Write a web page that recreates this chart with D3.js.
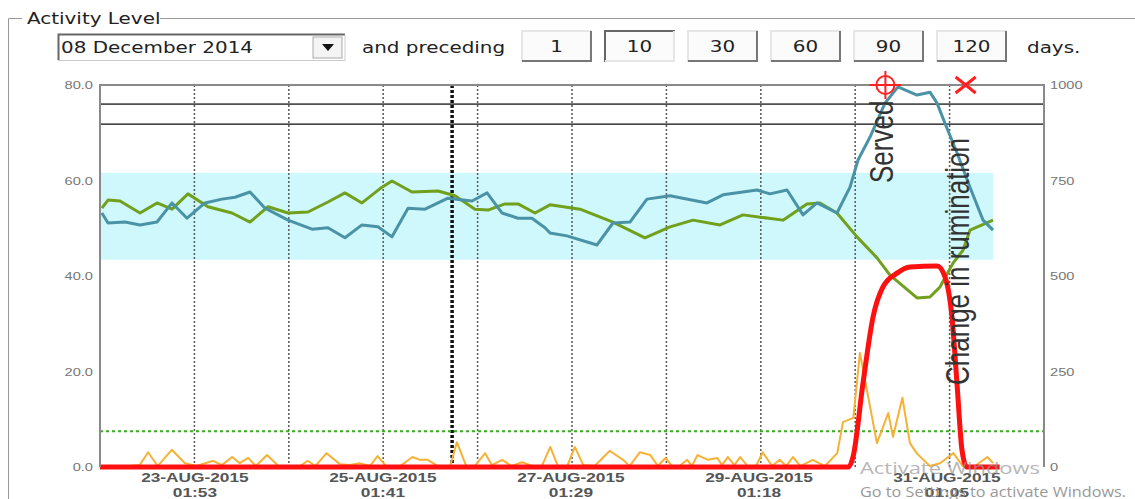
<!DOCTYPE html>
<html>
<meta charset="utf-8">
<script src="https://d3js.org/d3.v7.min.js"></script>
<style>
body{ margin:0; background:white; }
svg{ display:block; font-family:"DejaVu Sans", Verdana, sans-serif; }
.tickL text, .tickR text{ fill:#777; font-size:11px; }
.xlab{ fill:#555; font-size:13px; font-weight:bold; }
.ctl{ fill:#222; font-size:15px; }
.note{ fill:#333; font-family:"Liberation Sans", Arial, sans-serif; font-size:26px; }
</style>
<body>
<div id="chart"></div>
<script>
// --- data ---
var startTime = new Date(2015, 7, 22, 1, 53);
var spanDays = 10;

var presetDays = [1, 10, 30, 60, 90, 120];
var selectedDays = 10;
var dateText = "08 December 2014";

var leftTicks = [0, 20, 40, 60, 80];
var rightTicks = [0, 250, 500, 750, 1000];
var xTickDates = [new Date(2015,7,23,1,53), new Date(2015,7,25,1,41), new Date(2015,7,27,1,29), new Date(2015,7,29,1,18), new Date(2015,7,31,1,5)];
var xTickDays = ["23-AUG-2015", "25-AUG-2015", "27-AUG-2015", "29-AUG-2015", "31-AUG-2015"];
var xTickTimes = ["01:53", "01:41", "01:29", "01:18", "01:05"];

var dayLines = [1, 2, 3, 4, 5, 6, 7, 8, 9];   // days after start
var eventLine = 3.73;
var normalBand = [43.4, 61.6];
var limitBox = [71.8, 76.0];
var alarmLevel = 7.5;

// day offset / value
var blueDay = [0.02,0.085,0.265,0.424,0.604,0.763,0.922,1.112,1.292,1.43,1.589,1.748,1.992,2.246,2.415,2.595,2.775,2.945,3.093,3.263,3.443,3.686,3.941,4.1,4.258,4.428,4.576,4.714,4.767,4.947,5.265,5.434,5.614,5.794,6.038,6.43,6.6,6.96,7.097,7.278,7.447,7.595,7.807,7.945,8.03,8.157,8.316,8.453,8.655,8.792,8.867,8.951,9.078,9.216,9.354,9.46];
var blueVal = [53.2,51.1,51.3,50.7,51.3,55.3,52.1,55.3,56.1,56.5,57.6,54.2,51.7,49.8,50.1,48.0,50.7,50.3,48.2,54.2,54.0,56.3,55.7,57.4,53.2,52.1,52.1,50.1,49.0,48.4,46.5,51.1,51.3,56.1,56.8,55.3,57.0,58.0,57.2,58.0,52.8,55.3,53.2,58.6,64.3,69.1,76.2,79.6,77.9,78.5,76.2,72.0,65.8,58.6,51.7,49.6];

var greenDay = [0.02,0.085,0.212,0.424,0.604,0.763,0.932,1.144,1.398,1.589,1.78,1.992,2.203,2.415,2.595,2.775,2.987,3.093,3.305,3.581,3.761,3.972,4.11,4.29,4.428,4.608,4.767,5.085,5.434,5.773,6.038,6.282,6.568,6.811,7.235,7.489,7.627,7.807,8.019,8.231,8.369,8.655,8.792,8.898,9.036,9.142,9.216,9.46];
var greenVal = [54.2,55.9,55.7,53.2,55.3,54.0,57.2,54.5,53.2,51.3,54.5,53.2,53.4,55.5,57.4,55.3,58.6,59.9,57.6,57.8,56.8,54.0,53.8,55.1,55.1,53.2,54.9,54.0,51.3,48.0,50.3,51.7,50.7,52.8,51.7,55.1,55.3,53.2,48.2,43.8,40.2,35.4,35.6,37.7,42.7,45.4,49.6,51.7];

var redDay = [0, 7.93, 7.977, 8.083, 8.189, 8.294, 8.443, 8.581, 8.867, 8.951, 9.025, 9.078, 9.131, 9.184, 9.53];
var redVal = [0, 0, 2.1, 17.6, 31.4, 37.7, 40.6, 41.9, 42.1, 39.8, 31.4, 17.6, 3.6, 0, 0];

var orangeDay = [0.02,0.32,0.42,0.51,0.61,0.76,0.9,1.02,1.2,1.29,1.4,1.48,1.57,1.65,1.77,1.89,2.12,2.2,2.28,2.4,2.54,2.65,2.75,2.86,2.94,3.03,3.18,3.31,3.39,3.47,3.58,3.71,3.78,3.88,3.97,4.08,4.15,4.26,4.36,4.47,4.58,4.68,4.77,4.85,4.95,5.03,5.12,5.24,5.4,5.54,5.61,5.72,5.83,5.91,5.99,6.06,6.14,6.22,6.27,6.33,6.44,6.54,6.59,6.65,6.72,6.78,6.86,6.95,7.02,7.12,7.2,7.27,7.34,7.42,7.55,7.68,7.81,7.87,7.98,8.05,8.13,8.23,8.35,8.4,8.5,8.58,8.65,8.79,8.9,9.04,9.14,9.27,9.4,9.46];
var orangeVal = [0.2,0.2,0.4,3.1,0.2,3.6,0.8,0.2,1.3,0.4,2.1,0.8,1.9,0.2,2.5,0.2,0.2,1.3,0.2,2.9,0.6,0.4,0.8,0.2,2.3,0.2,0.2,2.1,1.5,1.5,0.2,0.2,5.2,0.2,0.2,2.9,0.4,1.5,0.2,1.0,0.2,0.2,4.2,0.2,0.2,4.2,0.4,0.2,3.4,1.5,0.2,3.1,2.5,0.2,1.9,0.2,0.2,1.5,0.2,2.5,1.5,1.9,0.4,2.1,0.4,2.1,0.2,0.2,3.1,0.2,1.5,0.2,2.1,0.2,1.5,0.2,2.9,9.4,10.3,23.9,15.5,5.0,11.3,6.3,14.5,5.0,2.9,0.2,0.8,2.9,0.2,0.2,2.1,0.8];

var events = [{day: 8.32, label: "Served", kind: "cross"}, {day: 9.17, label: "Change in rumination", kind: "x"}];

// --- layout ---
var W = 1135, H = 499;
var plot = {left: 100, right: 1044, top: 85, bottom: 467};
var stretch = 1.33;   // the screenshot is wider than tall text would be
var dayMs = 864e5;
function at(d){ return new Date(+startTime + d * dayMs); }

var svg = d3.select("#chart").append("svg").attr("width", W).attr("height", H);

var x = d3.scaleTime().domain([startTime, at(spanDays)]).range([plot.left, plot.right]);
var yL = d3.scaleLinear().domain([0, 80]).range([plot.bottom, plot.top]);
var yR = d3.scaleLinear().domain([0, 1000]).range([plot.bottom, plot.top]);

function wideText(sel, px, py, str, cls){
  return sel.append("text").attr("class", cls)
    .attr("transform", "translate(" + px + "," + py + ") scale(" + stretch + ",1)").text(str);
}

// group box + controls
svg.append("path").attr("d", "M8.5,499V18.5H22M160,18.5H1135").attr("fill","none").attr("stroke","#999").attr("stroke-width",1);
wideText(svg, 27, 24, "Activity Level", "ctl");

var dd = svg.append("g");
dd.append("rect").attr("x",58).attr("y",34).attr("width",287).attr("height",26).attr("fill","white");
dd.append("path").attr("d","M58.5,60V34.5H345").attr("fill","none").attr("stroke","#666").attr("stroke-width",2);
dd.append("path").attr("d","M345,34.5V60.5H58").attr("fill","none").attr("stroke","#ccc").attr("stroke-width",1);
dd.append("rect").attr("x",313).attr("y",37).attr("width",29).attr("height",21).attr("fill","#f4f4f4").attr("stroke","#aaa");
dd.append("path").attr("d","M322,44L334,44L328,51Z").attr("fill","#111");
wideText(dd, 61, 53, dateText, "ctl");
wideText(svg, 362, 53, "and preceding", "ctl");

var bx = d3.scaleBand().domain(presetDays).range([521, 1007]).paddingInner(0.145);
var btn = svg.selectAll(".btn").data(presetDays).enter().append("g").attr("class","btn")
  .attr("transform", function(d){ return "translate(" + bx(d) + ",30)"; });
btn.append("rect").attr("width", bx.bandwidth()).attr("height", 32).attr("fill", "#fbfbfb");
btn.append("path").attr("fill","none").attr("stroke-width",2)
  .attr("stroke", function(d){ return d == selectedDays ? "#666" : "#e6e6e6"; })
  .attr("d", "M1,32V1H" + bx.bandwidth());
btn.append("path").attr("fill","none").attr("stroke-width",2)
  .attr("stroke", function(d){ return d == selectedDays ? "#e6e6e6" : "#777"; })
  .attr("d", "M" + (bx.bandwidth()-1) + ",1V31H1");
btn.append("text").attr("class","ctl").attr("text-anchor","middle")
  .attr("transform", "translate(" + (bx.bandwidth()/2) + ",22) scale(" + stretch + ",1)")
  .text(function(d){ return d; });
wideText(svg, 1027, 53, "days.", "ctl");

// plot background pieces
var lastDay = blueDay[blueDay.length - 1];
svg.append("rect").attr("x", plot.left).attr("width", x(at(lastDay)) - plot.left)
  .attr("y", yL(normalBand[1])).attr("height", yL(normalBand[0]) - yL(normalBand[1]))
  .attr("fill", "#cff8fc");

svg.selectAll(".dayline").data(dayLines).enter().append("line").attr("class","dayline")
  .attr("x1", function(d){ return x(at(d)); }).attr("x2", function(d){ return x(at(d)); })
  .attr("y1", plot.top).attr("y2", plot.bottom)
  .attr("stroke", "#5a5a5a").attr("stroke-width", 1.5).attr("stroke-dasharray", "2,2");
svg.append("line").attr("x1", x(at(eventLine))).attr("x2", x(at(eventLine)))
  .attr("y1", plot.top).attr("y2", plot.bottom)
  .attr("stroke", "#111").attr("stroke-width", 3.5).attr("stroke-dasharray", "3,2");

svg.append("rect").attr("x", plot.left).attr("width", plot.right - plot.left)
  .attr("y", yL(limitBox[1])).attr("height", yL(limitBox[0]) - yL(limitBox[1]))
  .attr("fill","none").attr("stroke","#333").attr("stroke-width",1.5);

svg.append("line").attr("x1", plot.left).attr("x2", plot.right)
  .attr("y1", yL(alarmLevel)).attr("y2", yL(alarmLevel))
  .attr("stroke", "#3aaa22").attr("stroke-width", 2).attr("stroke-dasharray", "3,3");

// series
function drawLine(days, vals, color, width, curve){
  var pts = days.map(function(d, i){ return [at(d), vals[i]]; });
  var line = d3.line().x(function(p){ return x(p[0]); }).y(function(p){ return yL(p[1]); }).curve(curve || d3.curveLinear);
  svg.append("path").datum(pts).attr("d", line).attr("fill","none")
    .attr("stroke", color).attr("stroke-width", width).attr("stroke-linejoin","round");
}
drawLine(orangeDay, orangeVal, "#f5b236", 2);
drawLine(greenDay, greenVal, "#70a01c", 3);
drawLine(blueDay, blueVal, "#4a93a6", 3);
drawLine(redDay, redVal, "#ff1010", 5, d3.curveMonotoneX);

// frame
svg.append("path").attr("d", "M" + plot.left + "," + plot.bottom + "V" + plot.top + "H" + plot.right + "V" + plot.bottom)
  .attr("fill","none").attr("stroke","#8a8a8a").attr("stroke-width",2);

// axes
var gL = svg.append("g").attr("class","tickL").attr("transform","translate(" + (plot.left - 7) + ",0)")
  .call(d3.axisLeft(yL).tickValues(leftTicks).tickFormat(d3.format(".1f")).tickSize(0).tickPadding(0));
gL.select(".domain").remove();
gL.selectAll("text").attr("x", 0).attr("dy","0.35em").attr("transform", "scale(" + stretch + ",1)");

var gR = svg.append("g").attr("class","tickR").attr("transform","translate(" + (plot.right + 6) + ",0)")
  .call(d3.axisRight(yR).tickValues(rightTicks).tickFormat(d3.format("d")).tickSize(0).tickPadding(0));
gR.select(".domain").remove();
gR.selectAll("text").attr("x", 0).attr("transform", "scale(" + stretch + ",1)");

var gX = svg.append("g").attr("transform","translate(0," + plot.bottom + ")")
  .call(d3.axisBottom(x).tickValues(xTickDates).tickSize(0).tickFormat(""));
gX.select(".domain").remove();
gX.selectAll(".tick").each(function(d, i){
  var t = d3.select(this).append("text").attr("class","xlab").attr("text-anchor","middle")
    .attr("transform", "scale(" + stretch + ",1)");
  t.append("tspan").attr("x",0).attr("y",15).text(xTickDays[i]);
  t.append("tspan").attr("x",0).attr("y",30).text(xTickTimes[i]);
});

// event markers
events.forEach(function(e){
  var ex = x(at(e.day)), ey = plot.top;
  var g = svg.append("g").attr("transform","translate(" + ex + "," + ey + ")")
    .attr("stroke","#ff2020").attr("fill","none").attr("stroke-width",2);
  if (e.kind == "cross"){
    g.append("circle").attr("r", 9);
    g.append("path").attr("d","M-16,0H16M0,-14V14");
  } else {
    g.attr("stroke-width",3).append("path").attr("d","M-10,-8L10,8M-10,8L10,-8");
  }
});
svg.append("text").attr("class","note").attr("transform","translate(893,183) scale(1.3,1) rotate(-90)").text(events[0].label);
svg.append("text").attr("class","note").attr("transform","translate(969,385) scale(1.3,1) rotate(-90)").text(events[1].label);

// screen watermark
svg.append("text").attr("x",860).attr("y",474).attr("font-family","'Open Sans', sans-serif").attr("font-size",17)
  .attr("textLength",180).attr("lengthAdjust","spacingAndGlyphs")
  .attr("fill","#999").attr("opacity",0.7).text("Activate Windows");
svg.append("text").attr("x",860).attr("y",497).attr("font-family","'Open Sans', sans-serif").attr("font-size",15)
  .attr("textLength",266).attr("lengthAdjust","spacingAndGlyphs")
  .attr("fill","#888").attr("opacity",0.85).text("Go to Settings to activate Windows.");
</script>
</body>
</html>
